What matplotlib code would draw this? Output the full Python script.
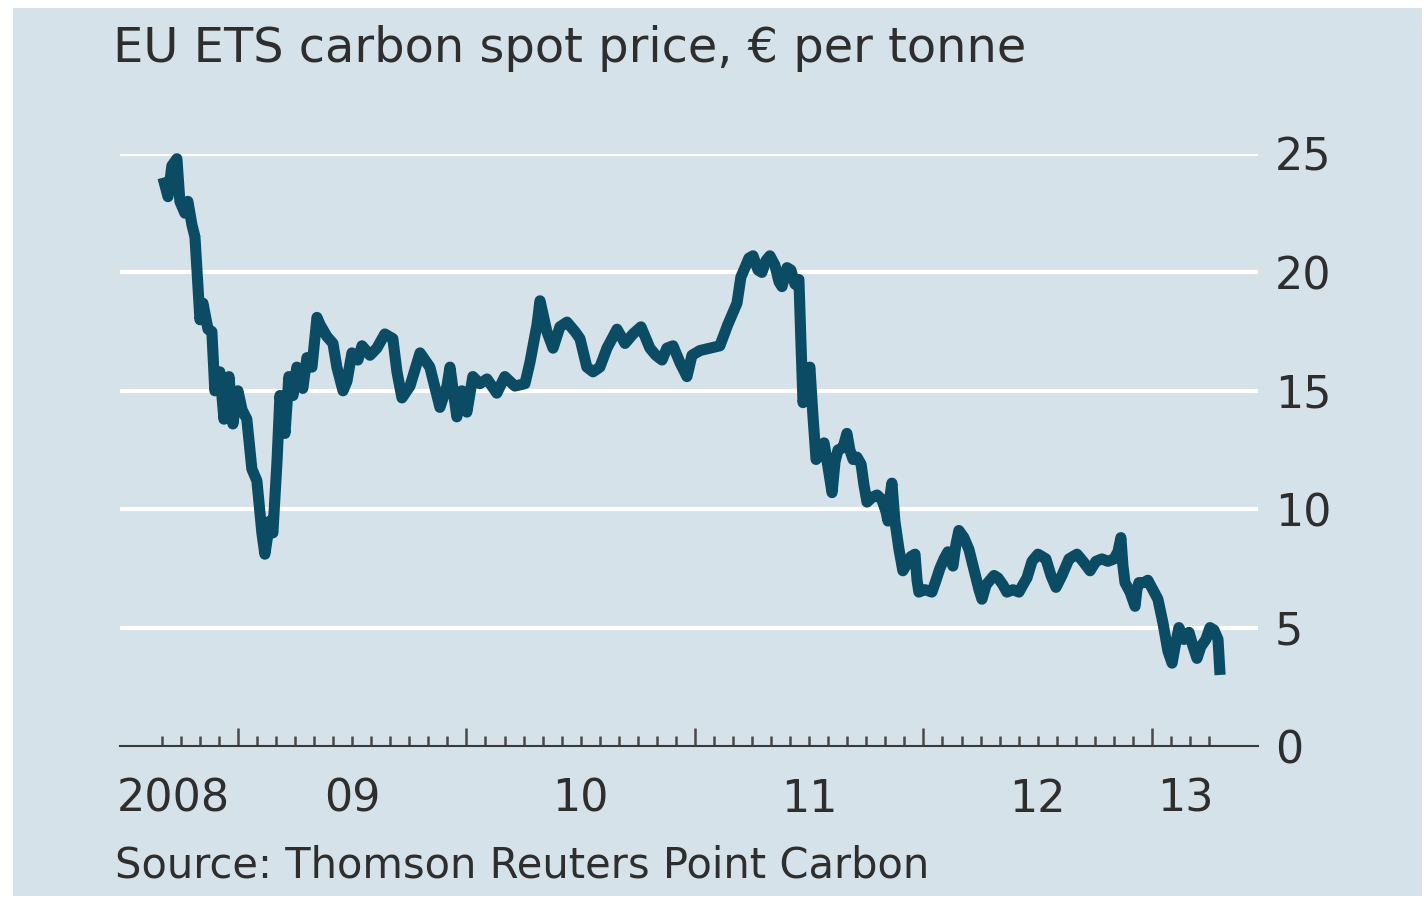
import matplotlib
matplotlib.use('Agg')
import matplotlib.pyplot as plt
import matplotlib.transforms as mtransforms
from matplotlib.patches import Rectangle
import numpy as np

# DATA: EU ETS carbon spot price (date as decimal year, EUR/t)
years = [2008.672, 2008.694, 2008.711, 2008.733, 2008.746, 2008.768, 2008.781, 2008.799,
         2008.812, 2008.834, 2008.847, 2008.869, 2008.886, 2008.899, 2008.921, 2008.939,
         2008.961, 2008.978, 2009.000, 2009.018, 2009.039, 2009.061, 2009.083, 2009.105,
         2009.118, 2009.140, 2009.153, 2009.171, 2009.184, 2009.206, 2009.223, 2009.241,
         2009.258, 2009.284, 2009.302, 2009.324, 2009.346, 2009.359, 2009.389, 2009.416,
         2009.433, 2009.460, 2009.477, 2009.499, 2009.525, 2009.543, 2009.578, 2009.608,
         2009.643, 2009.678, 2009.696, 2009.718, 2009.753, 2009.797, 2009.840, 2009.884,
         2009.915, 2009.928, 2009.958, 2009.980, 2010.002, 2010.028, 2010.059, 2010.090,
         2010.133, 2010.168, 2010.212, 2010.256, 2010.278, 2010.309, 2010.322, 2010.352,
         2010.379, 2010.409, 2010.440, 2010.475, 2010.497, 2010.527, 2010.554, 2010.584,
         2010.615, 2010.659, 2010.694, 2010.729, 2010.764, 2010.803, 2010.829, 2010.856,
         2010.877, 2010.904, 2010.934, 2010.965, 2010.987, 2011.022, 2011.066, 2011.109,
         2011.144, 2011.184, 2011.201, 2011.219, 2011.236, 2011.254, 2011.276, 2011.293,
         2011.311, 2011.328, 2011.350, 2011.368, 2011.381, 2011.403, 2011.420, 2011.438,
         2011.455, 2011.464, 2011.473, 2011.490, 2011.503, 2011.516, 2011.530, 2011.547,
         2011.565, 2011.582, 2011.600, 2011.613, 2011.626, 2011.648, 2011.665, 2011.678,
         2011.692, 2011.709, 2011.727, 2011.740, 2011.753, 2011.775, 2011.797, 2011.818,
         2011.836, 2011.845, 2011.853, 2011.862, 2011.875, 2011.893, 2011.910, 2011.928,
         2011.945, 2011.963, 2011.972, 2011.980, 2012.007, 2012.037, 2012.055, 2012.072,
         2012.090, 2012.107, 2012.129, 2012.142, 2012.155, 2012.177, 2012.199, 2012.225,
         2012.243, 2012.256, 2012.274, 2012.291, 2012.309, 2012.326, 2012.348, 2012.365,
         2012.392, 2012.418, 2012.435, 2012.453, 2012.475, 2012.501, 2012.519, 2012.536,
         2012.558, 2012.580, 2012.606, 2012.637, 2012.654, 2012.672, 2012.698, 2012.729,
         2012.755, 2012.781, 2012.807, 2012.834, 2012.851, 2012.864, 2012.873, 2012.882,
         2012.904, 2012.926, 2012.934, 2012.943, 2012.965, 2012.982, 2013.004, 2013.026,
         2013.048, 2013.070, 2013.088, 2013.101, 2013.118, 2013.140, 2013.162, 2013.180,
         2013.197, 2013.214, 2013.236, 2013.254, 2013.271, 2013.289, 2013.298]
price = [24.0, 23.2, 24.5, 24.8, 23.0, 22.5, 23.0, 22.0,
         21.5, 18.0, 18.7, 17.6, 17.5, 15.0, 15.8, 13.8,
         15.6, 13.6, 15.0, 14.2, 13.8, 11.7, 11.2, 9.0,
         8.1, 9.5, 9.0, 12.0, 14.8, 13.2, 15.6, 14.8,
         16.0, 15.1, 16.4, 16.0, 18.1, 17.8, 17.3, 17.0,
         16.0, 15.0, 15.4, 16.6, 16.3, 16.9, 16.5, 16.8,
         17.4, 17.2, 15.8, 14.7, 15.2, 16.6, 16.0, 14.3,
         15.2, 16.0, 13.9, 15.0, 14.1, 15.6, 15.3, 15.5,
         14.9, 15.6, 15.2, 15.3, 16.2, 17.8, 18.8, 17.5,
         16.8, 17.7, 17.9, 17.5, 17.2, 16.0, 15.8, 16.0,
         16.8, 17.6, 17.0, 17.4, 17.7, 16.8, 16.5, 16.3,
         16.8, 16.9, 16.2, 15.6, 16.5, 16.7, 16.8, 16.9,
         17.8, 18.7, 19.8, 20.2, 20.6, 20.7, 20.1, 20.0,
         20.5, 20.7, 20.3, 19.6, 19.4, 20.2, 20.1, 19.5,
         19.7, 17.0, 14.5, 15.5, 16.0, 14.0, 12.1, 12.3,
         12.8, 11.8, 10.7, 12.0, 12.5, 12.6, 13.2, 12.5,
         12.1, 12.2, 11.9, 11.0, 10.3, 10.5, 10.6, 10.4,
         9.9, 9.5, 10.5, 11.1, 9.5, 8.3, 7.4, 7.7,
         8.0, 8.1, 7.0, 6.5, 6.6, 6.5, 7.0, 7.5,
         7.9, 8.2, 7.6, 8.5, 9.1, 8.8, 8.3, 7.3,
         6.6, 6.2, 6.8, 7.0, 7.2, 7.1, 6.8, 6.5,
         6.6, 6.5, 6.8, 7.1, 7.8, 8.1, 8.0, 7.9,
         7.2, 6.7, 7.2, 7.9, 8.0, 8.1, 7.8, 7.4,
         7.8, 7.9, 7.8, 7.9, 8.2, 8.8, 7.6, 6.9,
         6.5, 5.9, 6.6, 6.9, 6.9, 7.0, 6.6, 6.2,
         5.2, 4.0, 3.5, 4.2, 5.0, 4.5, 4.8, 4.2,
         3.7, 4.2, 4.5, 5.0, 4.9, 4.5, 3.0]

y_ticks = [0, 5, 10, 15, 20, 25]
year_labels = ['2008', '09', '10', '11', '12', '13']
year_label_pos = [2008.47, 2009.5, 2010.5, 2011.5, 2012.5, 2013.145]

title = 'EU ETS carbon spot price, \u20ac per tonne'
source = 'Source: Thomson Reuters Point Carbon'

bg = '#d5e2e9'
line_col = '#0b4c64'
txt_col = '#2e2e2e'

plt.rcParams['font.family'] = ['DejaVu Sans']

W, H = 1424, 902
fig = plt.figure(figsize=(W/100., H/100.), dpi=100)
fig.patch.set_facecolor('white')
fig.patches.append(Rectangle((13/W, 6/H), (W-15)/W, (H-14)/H, transform=fig.transFigure,
                             facecolor=bg, edgecolor='none', zorder=-5))

ax = fig.add_axes([120/W, 156/H, 1138/W, 592/H])
ax.set_zorder(1)
ax.set_facecolor('none')
for s in ax.spines.values():
    s.set_visible(False)
ax.set_xlim(2008.484, 2013.464)
ax.set_ylim(0, 25)

# white gridlines and the zero line
for v in y_ticks[1:]:
    ax.axhline(v, color='white', lw=3, zorder=1)
ax.axhline(0, color='#3a3a3a', lw=1.5, zorder=2, clip_on=False)

ax.plot(years, price, color=line_col, lw=8, solid_joinstyle='round',
        solid_capstyle='butt', zorder=3, clip_on=False)

# monthly ticks pointing up, taller at the start of each year
months = np.arange(2008 + 8/12., 2013 + 3.5/12., 1/12.)
ax.set_xticks([2009, 2010, 2011, 2012, 2013])
ax.set_xticks(months, minor=True)
ax.tick_params(axis='x', which='major', direction='in', length=13, width=1.8,
               color='#4a4a4a', labelbottom=False)
ax.tick_params(axis='x', which='minor', direction='in', length=7.5, width=1.8,
               color='#4a4a4a')

ax.yaxis.tick_right()
ax.set_yticks(y_ticks)
ax.tick_params(axis='y', length=0, pad=12, labelsize=32, labelcolor=txt_col)

trans = mtransforms.blended_transform_factory(ax.transData, fig.transFigure)
for lab, pos in zip(year_labels, year_label_pos):
    ax.text(pos, (H-812)/H, lab, transform=trans, ha='left' if lab == '2008' else 'center',
            va='baseline', fontsize=32, color=txt_col)

fig.text(113/W, (H-62)/H, title, fontsize=34.5, color=txt_col, va='baseline', ha='left')
fig.text(115/W, (H-877)/H, source, fontsize=30, color=txt_col, va='baseline', ha='left')

fig.savefig('out.png', dpi=100, facecolor=fig.get_facecolor())
